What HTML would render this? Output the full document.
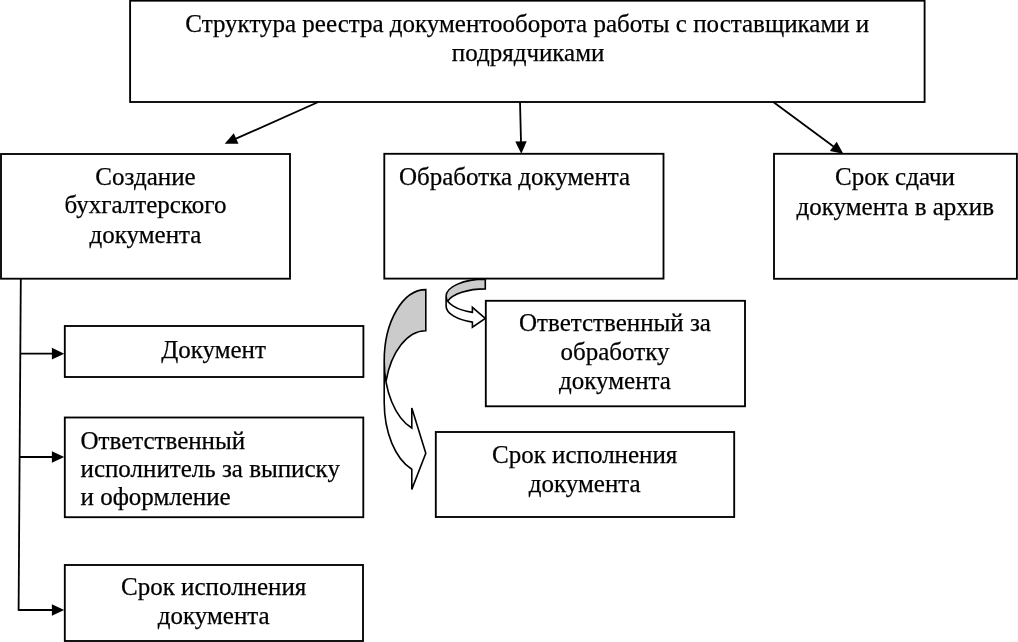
<!DOCTYPE html>
<html><head><meta charset="utf-8"><style>
html,body{margin:0;padding:0;background:#fff;}
body{width:1018px;height:642px;overflow:hidden;}
svg{display:block;filter:grayscale(100%);}
text{font-family:"Liberation Serif", serif;font-size:25px;fill:#000;stroke:#000;stroke-width:0.25px;}
</style></head><body>
<svg width="1018" height="642" viewBox="0 0 1018 642">
<rect x="130.1" y="0.7" width="794.50" height="101.30" fill="#fff" stroke="#000" stroke-width="1.85"/>
<rect x="1.0" y="154.0" width="289.00" height="124.70" fill="#fff" stroke="#000" stroke-width="1.85"/>
<rect x="384.3" y="153.8" width="279.20" height="124.80" fill="#fff" stroke="#000" stroke-width="1.85"/>
<rect x="774.0" y="153.8" width="242.90" height="125.00" fill="#fff" stroke="#000" stroke-width="1.85"/>
<rect x="64.8" y="326.0" width="298.60" height="51.00" fill="#fff" stroke="#000" stroke-width="1.85"/>
<rect x="64.8" y="417.5" width="298.50" height="99.70" fill="#fff" stroke="#000" stroke-width="1.85"/>
<rect x="64.8" y="565.0" width="298.20" height="76.00" fill="#fff" stroke="#000" stroke-width="1.85"/>
<rect x="485.8" y="300.8" width="259.20" height="105.50" fill="#fff" stroke="#000" stroke-width="1.85"/>
<rect x="435.8" y="432.0" width="298.40" height="85.00" fill="#fff" stroke="#000" stroke-width="1.85"/>
<line x1="318.30" y1="102.00" x2="234.29" y2="139.43" stroke="#000" stroke-width="1.8"/><polygon points="224.70,143.70 233.78,133.36 238.46,143.87" fill="#000"/>
<line x1="520.00" y1="102.00" x2="521.04" y2="143.30" stroke="#000" stroke-width="1.8"/><polygon points="521.30,153.80 515.24,141.45 526.73,141.16" fill="#000"/>
<line x1="773.30" y1="102.00" x2="834.86" y2="147.55" stroke="#000" stroke-width="1.8"/><polygon points="843.30,153.80 829.83,150.99 836.67,141.74" fill="#000"/>
<line x1="20.8" y1="278.7" x2="18.6" y2="610.8" stroke="#000" stroke-width="1.8"/>
<line x1="20.50" y1="353.70" x2="53.90" y2="353.70" stroke="#000" stroke-width="1.8"/><polygon points="64.20,353.70 51.90,359.55 51.90,347.85" fill="#000"/>
<line x1="19.70" y1="457.00" x2="53.90" y2="457.00" stroke="#000" stroke-width="1.8"/><polygon points="64.20,457.00 51.90,462.85 51.90,451.15" fill="#000"/>
<line x1="18.60" y1="610.00" x2="53.90" y2="610.00" stroke="#000" stroke-width="1.8"/><polygon points="64.20,610.00 51.90,615.85 51.90,604.15" fill="#000"/>
<path d="M384.20,360.90 A41.60,71.30 0 0 0 411.80,428.04 L411.80,407.89 L425.80,453.30 L411.80,489.39 L411.80,469.24 A41.60,71.30 0 0 1 384.20,402.10 Z" fill="#fff"/><path d="M425.80,330.80 A41.60,71.30 0 0 0 385.97,381.50 A41.60,71.30 0 0 1 425.80,289.60 Z" fill="#cbcbcb"/><path d="M384.20,360.90 A41.60,71.30 0 0 0 411.80,428.04 L411.80,407.89 L425.80,453.30 L411.80,489.39 L411.80,469.24 A41.60,71.30 0 0 1 384.20,402.10 L384.20,360.90 A41.60,71.30 0 0 1 425.80,289.60 L425.80,330.80 A41.60,71.30 0 0 0 385.97,381.50" fill="none" stroke="#000" stroke-width="1.6" stroke-linejoin="miter"/>
<path d="M446.10,296.20 A39.20,17.10 0 0 0 472.40,312.35 L472.40,307.35 L485.30,318.40 L472.40,327.15 L472.40,322.15 A39.20,17.10 0 0 1 446.10,306.00 Z" fill="#fff"/><path d="M485.30,288.90 A39.20,17.10 0 0 0 447.74,301.10 A39.20,17.10 0 0 1 485.30,279.10 Z" fill="#cbcbcb"/><path d="M446.10,296.20 A39.20,17.10 0 0 0 472.40,312.35 L472.40,307.35 L485.30,318.40 L472.40,327.15 L472.40,322.15 A39.20,17.10 0 0 1 446.10,306.00 L446.10,296.20 A39.20,17.10 0 0 1 485.30,279.10 L485.30,288.90 A39.20,17.10 0 0 0 447.74,301.10" fill="none" stroke="#000" stroke-width="1.6" stroke-linejoin="miter"/>
<text x="527.3" y="31.7" text-anchor="middle">Структура реестра документооборота работы с поставщиками и</text>
<text x="528.1" y="60.8" text-anchor="middle">подрядчиками</text>
<text x="145.5" y="184.7" text-anchor="middle">Создание</text>
<text x="145.5" y="213.3" text-anchor="middle">бухгалтерского</text>
<text x="145.5" y="243.3" text-anchor="middle">документа</text>
<text x="399" y="185.3" text-anchor="start">Обработка документа</text>
<text x="895" y="184.6" text-anchor="middle">Срок сдачи</text>
<text x="895.3" y="214.7" text-anchor="middle">документа в архив</text>
<text x="213.5" y="357.5" text-anchor="middle">Документ</text>
<text x="80.5" y="448.7" text-anchor="start">Ответственный</text>
<text x="80.5" y="477.0" text-anchor="start">исполнитель за выписку</text>
<text x="80.5" y="505.0" text-anchor="start">и оформление</text>
<text x="213.7" y="595.3" text-anchor="middle">Срок исполнения</text>
<text x="213.7" y="624.2" text-anchor="middle">документа</text>
<text x="615" y="330.8" text-anchor="middle">Ответственный за</text>
<text x="615" y="359.7" text-anchor="middle">обработку</text>
<text x="615" y="389.2" text-anchor="middle">документа</text>
<text x="584.7" y="463.0" text-anchor="middle">Срок исполнения</text>
<text x="584.7" y="492.0" text-anchor="middle">документа</text>
</svg>
</body></html>
